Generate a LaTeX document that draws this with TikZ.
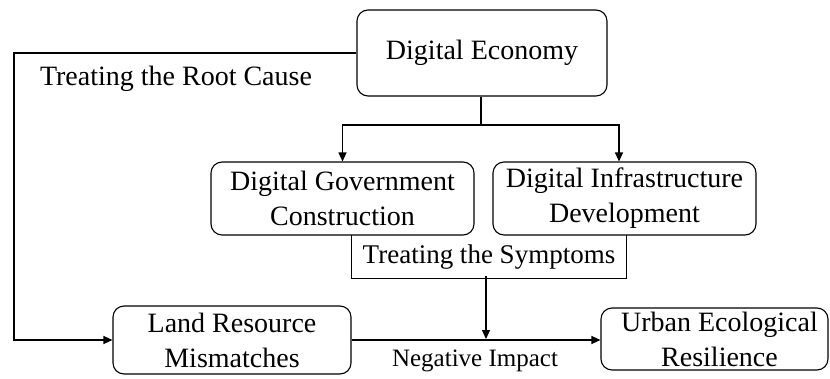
\documentclass[tikz,border=0pt]{standalone}
\usepackage{fontspec}
\setmainfont{Liberation Serif}
\usetikzlibrary{arrows.meta}
\begin{document}
\begin{tikzpicture}[x=1pt,y=-1pt,
  line width=1.1pt,
  box/.style={draw, rounded corners=11pt, align=center, inner sep=0pt,
    font=\fontsize{28}{35}\selectfont},
  lbl/.style={inner sep=0pt, font=\fontsize{28}{34}\selectfont},
  arr/.style={-{Triangle[length=9pt,width=8pt]}}]
\useasboundingbox (0,0) rectangle (830,378);

% boxes
\node[box, minimum width=250pt, minimum height=86pt] (econ) at (482,53) {Digital Economy};
\node[box, minimum width=263pt, minimum height=73pt] (gov) at (342.5,198.5) {Digital Government\\Construction};
\node[box, minimum width=263pt, minimum height=73pt] (infra) at (624.5,198.5) {Digital Infrastructure\\Development};
\node[box, minimum width=238pt, minimum height=68pt] (land) at (232,340) {Land Resource\\Mismatches};
\node[box, minimum width=227pt, minimum height=62pt] (urban) at (714.5,339) {\hspace*{10pt}Urban Ecological\\\hspace*{10pt}Resilience};

% open-topped moderator box
\node[inner sep=0pt, minimum width=274pt, minimum height=42pt,
  font=\fontsize{27}{32}\selectfont] (sym) at (489,257) {Treating the Symptoms};
\draw (sym.north west) -- (sym.south west) -- (sym.south east) -- (sym.north east);

% labels
\node[lbl] (root) at (176,79) {Treating the Root Cause};
\node[inner sep=0pt, font=\fontsize{25}{30}\selectfont] (neg) at (475,361) {Negative Impact};

% connectors
\coordinate (rootx) at (14,0);
\coordinate (fork) at (481,125);
\coordinate (meet) at (486,339);
\draw[arr] (econ.west) -- (econ.west -| rootx) |- (land.west);
\draw (econ.south -| fork) -- (fork);
\draw[arr] (fork) -| (gov.north);
\draw[arr] (fork) -| ([xshift=-5.5pt]infra.north);
\draw[arr] ([xshift=-3pt,yshift=3pt]sym.south) -- (meet);
\draw[arr] (land.east) -- (land.east -| urban.west);
\end{tikzpicture}
\end{document}
